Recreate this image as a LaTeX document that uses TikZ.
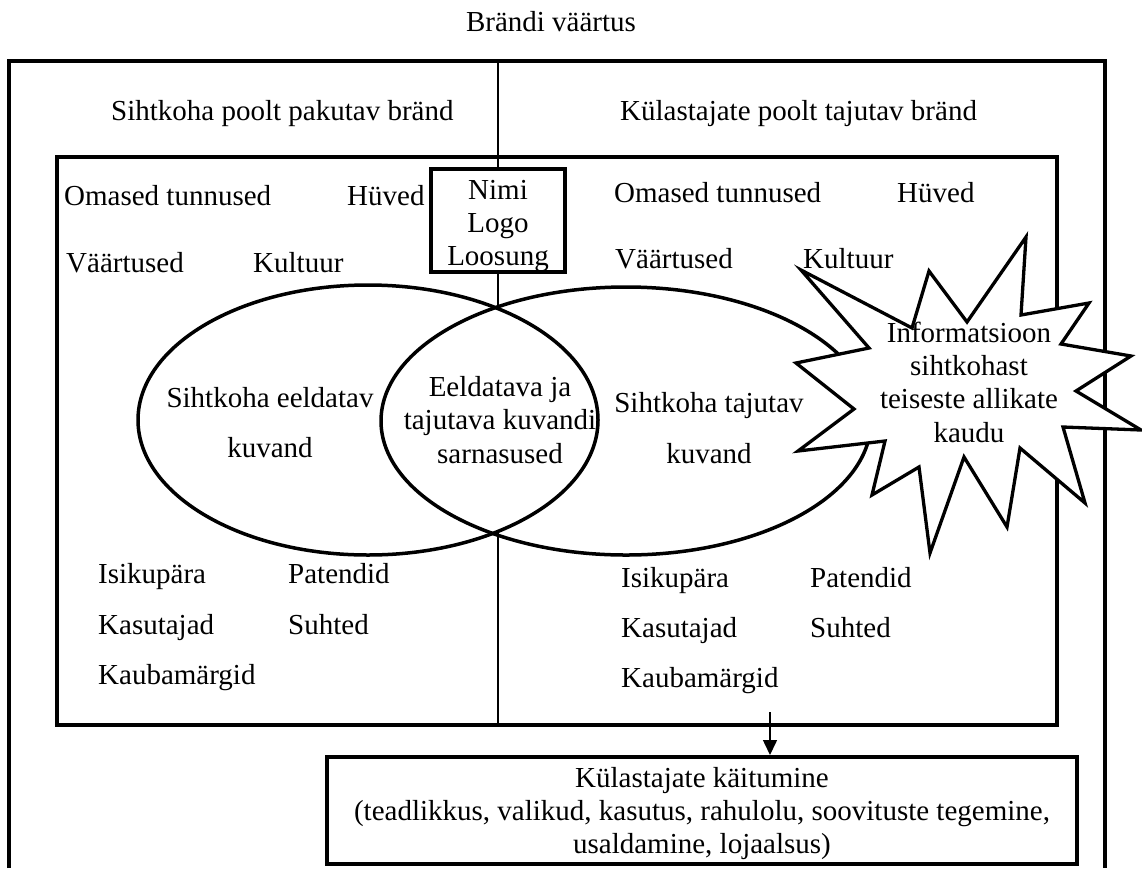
\documentclass[tikz,border=0pt]{standalone}
\usepackage{fontspec}
\setmainfont{Liberation Serif}
\usetikzlibrary{positioning, arrows.meta}
\tikzset{
every node/.style={font=\fontsize{29}{33.3}\selectfont, inner sep=0pt}, % Times-like text everywhere
word/.style={anchor=base west}, % list entries, placed by the start of their baseline
lines/.style={anchor=base, align=center}, % centred text, placed by its last baseline
box/.style={draw, line width=3.5pt, align=center}, % framed boxes
frame/.style={line width=3.5pt}, % the big outer and inner frames
split/.style={line width=2.5pt}, % the dividing line in the middle
oval/.style={line width=3.5pt}, % the two overlapping ellipses
burst/.style={draw, line width=3.3pt, fill=white, line join=miter}, % the spiky info shape
}

\begin{document}
\begin{tikzpicture}[x=1pt, y=-1pt]
    \useasboundingbox (0,0) rectangle (1142,868);
    % frames
    \draw[frame] (9,868) -- (9,61) -- (1105,61) -- (1105,868);
    \draw[frame] (57,157) rectangle (1057,725);
    \coordinate (top) at (498,63);
    \coordinate (capT) at (498,307);
    \coordinate (capB) at (498,533);
    \coordinate (bot) at (498,725);
    % headings
    \node[anchor=base] (title) at (551,31) {Brändi väärtus};
    \node[word] (offer) at (111,120) {Sihtkoha poolt pakutav bränd};
    \node[word] (seen) at (620,120) {Külastajate poolt tajutav bränd};
    \node[box, anchor=north, minimum width=134pt, text height=97pt, text depth=6pt] (name) at (498,167) {Nimi\\Logo\\Loosung};
    \draw[split] (top) -- (name.north);
    \draw[split] (name.south) -- (capT);
    \draw[split] (capB) -- (bot);
    % ellipses
    \draw[oval] (368,420) ellipse [x radius=230, y radius=135];
    \draw[oval] (626,421) ellipse [x radius=245, y radius=134];
    \node[lines] (expect) at (270,457) {Sihtkoha eeldatav\\[16pt]kuvand};
    \node[lines] (common) at (500,463) {Eeldatava ja\\tajutava kuvandi\\sarnasused};
    \node[lines] (felt) at (709,463) {Sihtkoha tajutav\\[17pt]kuvand};
    % left side words
    \node[word] (l1) at (64,205) {Omased tunnused};
    \node[word] (l2) at (347,205) {Hüved};
    \node[word] (l3) at (66,272) {Väärtused};
    \node[word] (l4) at (253,272) {Kultuur};
    \node[word] (l5) at (98,583) {Isikupära};
    \node[word] (l6) at (288,583) {Patendid};
    \node[word] (l7) at (98,634) {Kasutajad};
    \node[word] (l8) at (288,634) {Suhted};
    \node[word] (l9) at (98,684) {Kaubamärgid};
    % right side words
    \node[word] (r1) at (614,202) {Omased tunnused};
    \node[word] (r2) at (897,202) {Hüved};
    \node[word] (r3) at (615,268) {Väärtused};
    \node[word] (r4) at (803,268) {Kultuur};
    \node[word] (r5) at (621,587) {Isikupära};
    \node[word] (r6) at (810,587) {Patendid};
    \node[word] (r7) at (621,637) {Kasutajad};
    \node[word] (r8) at (810,637) {Suhted};
    \node[word] (r9) at (621,687) {Kaubamärgid};
    % behaviour
    \node[box, anchor=north, minimum width=750pt, text height=97pt, text depth=10pt] (act) at (702,755)
        {Külastajate käitumine\\(teadlikkus, valikud, kasutus, rahulolu, soovituste tegemine,\\usaldamine, lojaalsus)};
    \coordinate (go) at (770,712);
    \draw[line width=1.5pt, -{Triangle[length=15pt, width=14pt]}] (go) -- (go |- act.north);
    % outside information
    \draw[burst] (801,270) -- (912,328) -- (929,271) -- (967,322) -- (1026,237) -- (1021,315)
        -- (1089,303) -- (1061,344) -- (1131,356) -- (1076,391) -- (1141,430) -- (1063,427)
        -- (1085,503) -- (1020,448) -- (1007,527) -- (964,457) -- (930,553) -- (919,467)
        -- (872,495) -- (885,441) -- (798,451) -- (854,409) -- (796,363) -- (869,348) -- cycle;
    \node[lines] (info) at (969,442) {Informatsioon\\sihtkohast\\teiseste allikate\\kaudu};
\end{tikzpicture}
\end{document}
